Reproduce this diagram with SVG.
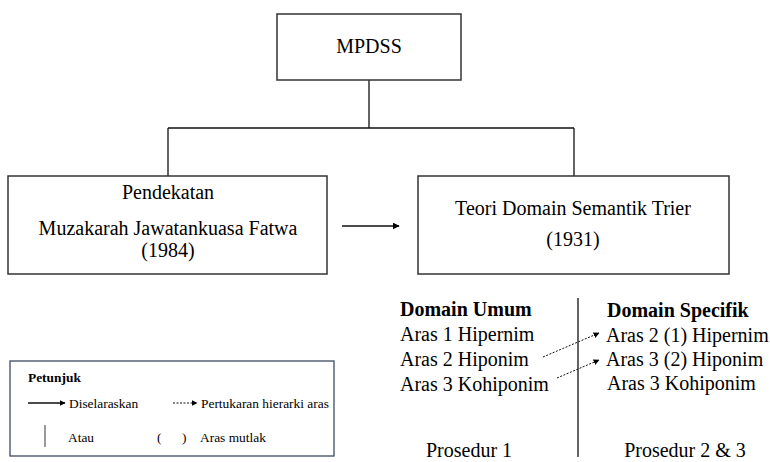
<svg xmlns="http://www.w3.org/2000/svg" width="770" height="462" viewBox="0 0 770 462">
<defs>
<style>
.box{fill:#fff;stroke:#333;stroke-width:1.5}
.ln{fill:none;stroke:#111;stroke-width:1.3}
.dot{fill:none;stroke:#111;stroke-width:1;stroke-dasharray:2,1.5}
.t{font-family:"Liberation Serif","Times New Roman",serif;font-size:20px;fill:#000}
.b{font-weight:bold}
.c{text-anchor:middle}
.s{font-family:"Liberation Serif","Times New Roman",serif;font-size:13.4px;fill:#000}
</style>
<marker id="ah" viewBox="0 0 10 10" refX="9" refY="5" markerWidth="7" markerHeight="7" markerUnits="userSpaceOnUse" orient="auto"><path d="M0,0 L10,5 L0,10 z" fill="#000"/></marker>
<marker id="ahs" viewBox="0 0 10 10" refX="9" refY="5" markerWidth="6" markerHeight="6" markerUnits="userSpaceOnUse" orient="auto"><path d="M0,0 L10,5 L0,10 z" fill="#000"/></marker>
</defs>
<g id="connectors">
<path class="ln" d="M369,80 V128 M168,128 H574 M168,128 V176 M574,128 V176"/>
<path class="ln" d="M342,226 H399" marker-end="url(#ah)"/>
<path class="dot" d="M543,357 L599,333" marker-end="url(#ahs)"/>
<path class="dot" d="M557,378 L599,360" marker-end="url(#ahs)"/>
<path class="ln" d="M578,298 V457" stroke="#222"/>
</g>
<g id="mpdss">
<rect class="box" x="277" y="14" width="184" height="66"/>
<text class="t c" x="369" y="53">MPDSS</text>
</g>
<g id="pendekatan">
<rect class="box" x="8" y="176" width="319" height="98"/>
<text class="t c" x="168" y="199">Pendekatan</text>
<text class="t c" x="168" y="235">Muzakarah Jawatankuasa Fatwa</text>
<text class="t c" x="168" y="257">(1984)</text>
</g>
<g id="teori">
<rect class="box" x="418" y="176" width="311" height="98"/>
<text class="t c" x="573" y="215">Teori Domain Semantik Trier</text>
<text class="t c" x="573" y="246">(1931)</text>
</g>
<g id="domain-umum">
<text class="t b" x="400" y="316">Domain Umum</text>
<text class="t" x="400" y="341">Aras 1 Hipernim</text>
<text class="t" x="400" y="366">Aras 2 Hiponim</text>
<text class="t" x="400" y="391">Aras 3 Kohiponim</text>
<text class="t c" x="469" y="457">Prosedur 1</text>
</g>
<g id="domain-specifik">
<text class="t b" x="607" y="317">Domain Specifik</text>
<text class="t" x="606" y="342">Aras 2 (1) Hipernim</text>
<text class="t" x="606" y="366">Aras 3 (2) Hiponim</text>
<text class="t" x="607" y="390">Aras 3 Kohiponim</text>
<text class="t c" x="685" y="457">Prosedur 2 &amp; 3</text>
</g>
<g id="petunjuk">
<rect x="10" y="361" width="324" height="95" fill="#fff" stroke="#3d4b5e" stroke-width="1.3"/>
<text class="s b" x="28" y="382">Petunjuk</text>
<path class="ln" d="M28,403 H65" marker-end="url(#ahs)"/>
<text class="s" x="69" y="408">Diselaraskan</text>
<path class="dot" d="M173,403 H197" marker-end="url(#ahs)"/>
<text class="s" x="201" y="408">Pertukaran hierarki aras</text>
<path d="M45,425 V447" stroke="#555" stroke-width="1.2"/>
<text class="s" x="68" y="442">Atau</text>
<text class="s" x="157" y="442">(</text>
<text class="s" x="182" y="442">)</text>
<text class="s" x="200" y="442">Aras mutlak</text>
</g>
</svg>
